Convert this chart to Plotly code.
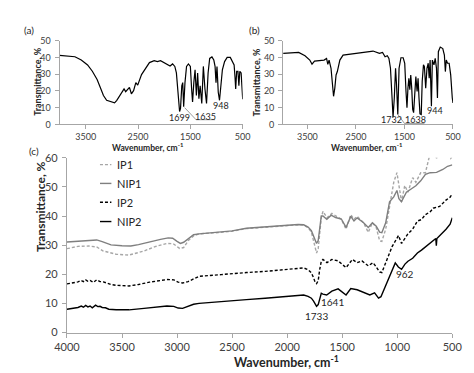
import plotly.graph_objects as go

W, H = 474, 373
FONT = "Lato"

# ---------------- Panel (a) ----------------
a_wn = [4000, 3850, 3706, 3585, 3464, 3373, 3282, 3221, 3161, 3100, 3009, 2948, 2906, 2827, 2767,
        2736, 2706, 2664, 2627, 2585, 2542, 2506, 2433, 2342, 2282, 2191, 2131, 2070, 2010, 1949,
        1888, 1840, 1797, 1767, 1737, 1706, 1688, 1664, 1646, 1628, 1603, 1573, 1537, 1500, 1476,
        1458, 1434, 1410, 1385, 1361, 1337, 1313, 1282, 1252, 1221, 1191, 1161, 1131, 1088, 1052,
        1028, 1010, 991, 967, 943, 919, 888, 846, 797, 737, 688, 664, 646, 634, 615, 591, 573, 555,
        530, 506, 500]
a_T = [41.3, 41.0, 40.5, 38.5, 35.6, 31.8, 26.9, 22.1, 17.3, 14.4, 13.5, 12.9, 14.4, 18.3, 21.2,
       19.6, 20.8, 22.1, 18.3, 20.2, 25.0, 23.5, 29.8, 34.6, 37.0, 38.1, 37.6, 38.1, 37.0, 36.2,
       35.0, 36.2, 34.7, 30.8, 17.3, 7.7, 9.6, 23.1, 25.0, 10.6, 25.0, 34.7, 36.2, 34.7, 21.2,
       13.4, 25.0, 32.7, 17.3, 30.8, 15.4, 23.1, 12.5, 34.7, 21.2, 12.5, 30.8, 39.5, 40.4, 38.5,
       34.7, 25.0, 34.7, 19.2, 14.4, 23.1, 32.7, 37.6, 40.1, 40.1, 37.6, 35.6, 27.9, 21.2, 31.8,
       31.8, 23.1, 31.8, 30.8, 20.2, 15.0]

# ---------------- Panel (b) ----------------
b_wn = [4000, 3850, 3680, 3549, 3451, 3405, 3353, 3157, 3105, 3079, 3053, 3013, 2987, 2961, 2935,
        2909, 2883, 2831, 2765, 2503, 2242, 2147, 2016, 1951, 1899, 1853, 1820, 1788, 1755, 1735,
        1709, 1683, 1663, 1637, 1611, 1572, 1526, 1494, 1468, 1448, 1428, 1409, 1389, 1370, 1350,
        1330, 1311, 1291, 1265, 1239, 1219, 1200, 1180, 1154, 1134, 1108, 1089, 1062, 1036, 1010,
        990, 971, 944, 925, 892, 866, 840, 820, 801, 762, 710, 677, 657, 638, 612, 579, 547, 514, 500]
b_T = [42.5, 42.8, 43.1, 41.1, 38.5, 36.1, 37.9, 38.5, 39.5, 35.9, 38.5, 33.6, 21.7, 16.8, 21.7,
       29.6, 31.6, 38.5, 41.5, 42.5, 43.5, 43.9, 42.5, 43.1, 40.5, 41.1, 39.5, 33.6, 15.8, 4.3,
       15.8, 33.6, 23.7, 5.9, 33.6, 39.9, 39.9, 36.6, 19.7, 9.9, 21.7, 27.6, 20.7, 29.6, 21.7,
       8.9, 7.0, 15.8, 28.6, 19.7, 27.6, 15.8, 6.3, 5.9, 25.7, 35.6, 34.6, 21.7, 33.6, 36.6,
       27.6, 38.5, 10.9, 38.5, 35.6, 39.5, 33.6, 15.8, 43.5, 46.3, 45.4, 41.5, 31.6, 38.5, 36.6,
       36.6, 29.6, 15.8, 12.8]

# ---------------- Panel (c) ----------------
ip1_wn = [4000, 3900, 3800, 3730, 3670, 3553, 3437, 3300, 3200, 3092, 3035, 3000, 2977, 2940, 2900,
          2850, 2800, 2600, 2500, 2370, 2200, 2000, 1900, 1850, 1810, 1780, 1760, 1745, 1733, 1718,
          1705, 1690, 1675, 1660, 1638, 1594, 1560, 1508, 1465, 1422, 1393, 1364, 1306, 1263, 1226,
          1191, 1160, 1140, 1105, 1070, 1032, 1003, 985, 961, 932, 903, 860, 831, 787, 744, 716, 701, 680,
          660, 643, 620, 580, 540, 515, 500]
ip1_T = [28.8, 29.6, 29.7, 29.4, 28.0, 26.9, 26.6, 28.0, 29.5, 30.6, 30.5, 29.5, 28.9, 29.2, 31.5,
         33.2, 33.9, 34.4, 34.8, 35.7, 36.2, 36.8, 37.0, 36.9, 36.0, 34.5, 31.5, 28.5, 27.3, 28.8,
         34.0, 39.5, 41.6, 40.5, 39.4, 40.9, 40.0, 38.9, 35.5, 40.5, 38.9, 39.9, 37.7, 34.4, 37.7,
         36.1, 31.5, 31.3, 35.5, 43.8, 51.6, 54.9, 50.0, 44.9, 50.5, 48.2, 53.2, 51.6, 54.9, 54.9, 59.3, 61.5, 63.0,
         61.0, 59.9, 61.5, 63.0, 61.5, 59.8, 60.5]

nip1_wn = [4000, 3900, 3800, 3730, 3680, 3600, 3500, 3420, 3350, 3250, 3150, 3080, 3040, 3000, 2970,
           2940, 2900, 2850, 2800, 2600, 2500, 2370, 2200, 2000, 1900, 1850, 1810, 1780, 1760, 1745, 1733,
           1718, 1705, 1690, 1675, 1640, 1600, 1560, 1508, 1465, 1422, 1393, 1364, 1306, 1263, 1226, 1191,
           1160, 1140, 1105, 1070, 1032, 1003, 985, 962, 917, 874, 831, 787, 744, 701, 643, 586, 543, 500]
nip1_T = [31.1, 31.4, 31.7, 31.8, 31.2, 30.1, 29.8, 29.7, 30.2, 31.2, 32.0, 32.5, 32.4, 31.3, 30.6,
          31.0, 32.3, 33.6, 33.9, 34.5, 34.9, 35.8, 36.3, 36.8, 37.1, 37.0, 36.2, 35.0, 33.2, 31.3, 30.6,
          31.6, 36.0, 40.0, 40.0, 38.9, 40.3, 39.5, 39.0, 36.1, 39.9, 38.3, 39.4, 37.7, 36.1, 37.7, 36.5,
          34.5, 34.3, 37.7, 44.9, 46.6, 48.8, 46.0, 44.9, 48.2, 49.3, 50.4, 52.1, 54.3, 54.9, 55.0, 56.0, 57.1, 57.6]

ip2_wn = [4000, 3950, 3900, 3870, 3850, 3830, 3810, 3790, 3760, 3730, 3700, 3670, 3640, 3600, 3550,
          3437, 3350, 3250, 3092, 3030, 2990, 2950, 2900, 2850, 2800, 2600, 2500, 2370, 2200, 2000,
          1900, 1850, 1810, 1780, 1760, 1745, 1733, 1718, 1705, 1690, 1675, 1638, 1594, 1537, 1465, 1407, 1364, 1321,
          1263, 1220, 1200, 1160, 1140, 1090, 1047, 989, 961, 903, 860, 817, 780, 744, 700, 673, 615, 557, 520, 500]
ip2_T = [16.7, 17.0, 17.4, 17.9, 17.5, 18.1, 17.6, 17.9, 17.2, 18.1, 17.5, 17.4, 16.9, 16.5, 16.2,
         16.0, 16.5, 17.3, 18.2, 18.1, 17.3, 17.0, 17.5, 18.5, 19.3, 19.9, 20.3, 20.6, 21.0, 21.6,
         22.1, 22.2, 21.6, 20.5, 18.8, 17.2, 16.8, 17.8, 21.5, 24.5, 25.1, 24.0, 25.1, 24.6, 22.3, 25.1, 24.0, 24.6,
         22.9, 24.0, 23.0, 20.8, 20.6, 25.1, 29.5, 33.3, 30.6, 33.9, 35.5, 38.3, 38.8, 40.5, 41.5, 42.7, 43.3, 45.5, 46.5, 47.7]

nip2_wn = [4000, 3950, 3900, 3870, 3850, 3830, 3810, 3790, 3770, 3740, 3720, 3700, 3680, 3650, 3620,
           3553, 3437, 3300, 3150, 3092, 3030, 2990, 2950, 2900, 2850, 2800, 2600, 2500, 2370, 2200,
           2000, 1900, 1850, 1810, 1780, 1760, 1745, 1733, 1718, 1705, 1690, 1675, 1641, 1594, 1537, 1465, 1422, 1364,
           1321, 1249, 1206, 1170, 1148, 1076, 1018, 990, 961, 930, 903, 860, 817, 780, 760, 720, 673,
           650, 645, 640, 557, 520, 500]
nip2_T = [8.0, 8.3, 8.6, 9.1, 8.7, 9.3, 8.8, 9.1, 8.5, 9.4, 8.9, 9.0, 8.6, 8.5, 8.0,
          7.8, 7.8, 8.3, 8.9, 9.1, 9.0, 8.4, 8.3, 9.0, 9.7, 10.0, 10.5, 10.9, 11.3, 11.8,
          12.4, 12.8, 12.9, 12.4, 11.8, 10.8, 9.5, 9.0, 9.6, 12.0, 13.5, 13.2, 12.9, 14.2, 15.0, 12.9, 15.1, 14.7,
          14.0, 12.9, 13.6, 11.8, 12.3, 18.4, 23.9, 22.5, 21.7, 23.5, 24.5, 25.5, 27.3, 28.3, 28.9, 30.0, 31.7,
          32.3, 29.8, 32.3, 35.5, 37.2, 39.4]

series_names = ["IP1", "NIP1", "IP2", "NIP2"]
series_colors = ["#a6a6a6", "#7f7f7f", "#000000", "#000000"]
series_dash = ["3px,2px", "solid", "3px,2px", "solid"]

ab_ticks = [3500, 2500, 1500, 500]
c_xticks = [4000, 3500, 3000, 2500, 2000, 1500, 1000, 500]


def px(x):
    return x / W


def py(y):
    return 1 - y / H


fig = go.Figure()
fig.add_trace(go.Scatter(x=a_wn, y=a_T, mode="lines", line=dict(color="black", width=1.2),
                         xaxis="x", yaxis="y", showlegend=False))
fig.add_trace(go.Scatter(x=b_wn, y=b_T, mode="lines", line=dict(color="black", width=1.2),
                         xaxis="x2", yaxis="y2", showlegend=False))
for wn, t, name, col, dash in zip([ip1_wn, nip1_wn, ip2_wn, nip2_wn], [ip1_T, nip1_T, ip2_T, nip2_T],
                                  series_names, series_colors, series_dash):
    fig.add_trace(go.Scatter(x=wn, y=t, mode="lines", name=name,
                             line=dict(color=col, width=1.4, dash=dash),
                             xaxis="x3", yaxis="y3", showlegend=False))

axcol = "#a6a6a6"
tickfont_small = dict(family=FONT, size=9, color="#404040")
tickfont_big = dict(family=FONT, size=11, color="#404040")


def xax(domain, anchor, tickvals, font):
    return dict(domain=domain, anchor=anchor, range=[4000, 500], tickvals=tickvals,
                showline=True, linecolor=axcol, linewidth=1, ticks="outside", ticklen=4,
                tickcolor=axcol, showgrid=False, zeroline=False, tickfont=font)


def yax(domain, anchor, rng, dtick, font):
    return dict(domain=domain, anchor=anchor, range=rng, dtick=dtick, tick0=0,
                showline=True, linecolor=axcol, linewidth=1, ticks="outside", ticklen=4,
                tickcolor=axcol, showgrid=False, zeroline=False, tickfont=font,
                ticklabelstandoff=2)


fig.update_layout(
    width=W, height=H, autosize=False,
    margin=dict(l=0, r=0, t=0, b=0),
    paper_bgcolor="white", plot_bgcolor="white",
    xaxis=xax([px(40.5), px(233)], "y", ab_ticks, tickfont_small),
    yaxis=yax([py(113.3), py(26.8)], "x", [0, 50], 10, tickfont_small),
    xaxis2=xax([px(275.5), px(454)], "y2", ab_ticks, tickfont_small),
    yaxis2=yax([py(113.3), py(26.8)], "x2", [0, 50], 10, tickfont_small),
    xaxis3=xax([px(48.3), px(453.3)], "y3", c_xticks, tickfont_big),
    yaxis3=yax([py(329), py(148)], "x3", [0, 60], 10, tickfont_big),
)

ann = []


def text(x, y, s, size, angle=0, color="#262626", xanchor="center"):
    ann.append(dict(x=px(x), y=py(y), xref="paper", yref="paper", text=s, showarrow=False,
                    font=dict(family=FONT, size=size, color=color), textangle=angle,
                    xanchor=xanchor, yanchor="middle"))


# panel labels
text(8, 16, "(a)", 10)
text(245, 16, "(b)", 10)
text(14, 141, "(c)", 10)
# axis titles
text(17, 69, "<b>Transmittance, %</b>", 9, -90)
text(248, 69, "<b>Transmittance, %</b>", 9, -90)
text(133, 136.5, "<b>Wavenumber, cm<sup>-1</sup></b>", 8.5)
text(364, 136.5, "<b>Wavenumber, cm<sup>-1</sup></b>", 8.5)
text(20, 199, "<b>Transmittance, %</b>", 12, -90)
text(279, 358.5, "<b>Wavenumber, cm<sup>-1</sup></b>", 12.5)
# peak labels
text(167, 106, "1699", 9)
text(194, 105, "1635", 9)
text(210, 94, "948", 9)
text(389.5, 108, "1732", 9)
text(415, 108, "1638", 9)
text(435, 99, "944", 9)
text(327, 297, "1641", 10)
text(311, 312, "1733", 10)
text(404, 268, "962", 10)
# legend text
leg_y = [155, 174.5, 194, 214]
for name, yy in zip(series_names, leg_y):
    text(99, yy, name, 11, xanchor="left")

shapes = []
for col, dash, yy in zip(series_colors, series_dash, leg_y):
    shapes.append(dict(type="line", xref="paper", yref="paper", x0=px(83), x1=px(95),
                       y0=py(yy), y1=py(yy), line=dict(color=col, width=1.4, dash=dash)))
# leader lines (a)
shapes.append(dict(type="line", xref="paper", yref="paper", x0=px(172), y0=py(96), x1=px(184), y1=py(108.5),
                   line=dict(color="#808080", width=0.8)))
shapes.append(dict(type="line", xref="paper", yref="paper", x0=px(184), y0=py(108.5), x1=px(204), y1=py(108.5),
                   line=dict(color="#808080", width=0.8)))
# leader lines (b)
shapes.append(dict(type="line", xref="paper", yref="paper", x0=px(396), y0=py(103), x1=px(403), y1=py(112.3),
                   line=dict(color="#808080", width=0.8)))
shapes.append(dict(type="line", xref="paper", yref="paper", x0=px(403), y0=py(112.3), x1=px(424), y1=py(112.3),
                   line=dict(color="#808080", width=0.8)))
# right frame edge
shapes.append(dict(type="line", xref="paper", yref="paper", x0=px(471.5), x1=px(471.5), y0=0, y1=1,
                   line=dict(color="#d0d0d0", width=1.5)))

fig.update_layout(annotations=ann, shapes=shapes)
fig.write_html("out.html")
